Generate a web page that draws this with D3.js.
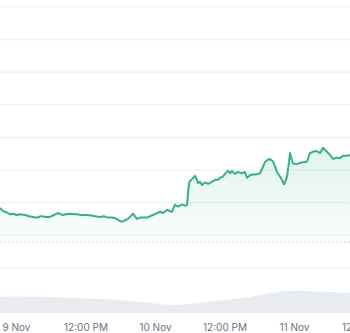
<!DOCTYPE html>
<html>
<head>
<meta charset="utf-8">
<script src="https://cdn.jsdelivr.net/npm/d3@7"></script>
<style>
  body { margin: 0; background: #fff; overflow: hidden; }
  svg { display: block; }
  .xAxis text { font-family: Inter, "Noto Sans", sans-serif; font-size: 10px; fill: #6b7280; }
</style>
</head>
<body>
<svg id="chart"></svg>
<script>
// hours since 9 Nov 00:00
const hours = [-2.76, -2.24, -1.90, -1.38, -1.04, -0.52, 0.17, 0.69, 1.55, 2.24, 2.94, 3.45, 3.80, 4.14, 4.49,
  5.18, 5.87, 6.56, 7.25, 7.77, 8.11, 8.63, 9.32, 10.01, 10.53, 11.22, 11.91, 12.78, 13.64, 14.50,
  15.19, 15.88, 16.57, 17.09, 17.61, 18.13, 18.47, 18.82, 19.16, 19.68, 20.20, 20.55, 20.89, 21.41, 22.10,
  22.62, 23.14, 23.65, 24.17, 24.86, 25.38, 26.07, 26.59, 26.94, 27.45, 27.97, 28.66, 29.18, 29.53, 29.87,
  30.22, 30.56, 30.91, 31.25, 31.42, 31.77, 32.11, 32.63, 33.15, 33.50, 34.01, 34.36, 34.88, 35.22, 35.74,
  36.09, 36.60, 36.95, 37.30, 37.81, 38.33, 38.68, 39.02, 39.54, 39.88, 40.40, 40.75, 41.27, 41.78, 42.13,
  42.65, 42.99, 43.34, 43.86, 44.37, 44.72, 45.06, 45.58, 45.93, 46.27, 46.62, 46.79, 47.14, 47.31, 47.65,
  47.83, 48.52, 49.04, 49.38, 49.90, 50.24, 50.76, 51.28, 51.63, 52.14, 52.49, 53.01, 53.35, 53.70, 54.22,
  54.73, 55.08, 55.42, 55.94, 56.46, 57.15, 57.67];

const prices = [1.692, 1.687, 1.686, 1.684, 1.682, 1.683, 1.681, 1.682, 1.681, 1.679, 1.678, 1.677, 1.677, 1.679, 1.679,
  1.678, 1.678, 1.681, 1.684, 1.682, 1.681, 1.682, 1.683, 1.682, 1.682, 1.681, 1.681, 1.6805, 1.679, 1.678,
  1.679, 1.677, 1.677, 1.676, 1.674, 1.671, 1.671, 1.673, 1.674, 1.678, 1.683, 1.679, 1.675, 1.677, 1.677,
  1.677, 1.679, 1.681, 1.683, 1.686, 1.684, 1.689, 1.687, 1.686, 1.697, 1.694, 1.697, 1.6955, 1.696, 1.730,
  1.735, 1.737, 1.741, 1.735, 1.730, 1.732, 1.727, 1.731, 1.729, 1.730, 1.733, 1.735, 1.735, 1.738, 1.740,
  1.744, 1.749, 1.745, 1.7485, 1.744, 1.747, 1.746, 1.745, 1.747, 1.738, 1.742, 1.743, 1.743, 1.744, 1.745,
  1.755, 1.762, 1.765, 1.767, 1.763, 1.756, 1.747, 1.740, 1.735, 1.728, 1.735, 1.740, 1.762, 1.776, 1.765,
  1.760, 1.759, 1.761, 1.762, 1.762, 1.763, 1.776, 1.778, 1.779, 1.778, 1.776, 1.784, 1.781, 1.778, 1.773,
  1.767, 1.768, 1.769, 1.768, 1.772, 1.772, 1.773];

// volume (millions)
const volHours = [-2.76, 1.55, 5.87, 10.24, 14.50, 19.68, 23.14, 24.86, 27.45, 31.77, 35.22, 38.68, 42.13, 45.58, 49.04, 52.49, 55.94, 57.67];
const volumes = [16.3, 16.5, 16.0, 15.0, 14.0, 12.0, 10.0, 9.0, 8.0, 10.3, 12.5, 14.7, 18.0, 21.3, 22.3, 21.3, 20.5, 19.7];

const gridPrices = [1.60, 1.65, 1.70, 1.75, 1.80, 1.85, 1.90, 1.95, 2.00];
const openPrice = 1.6395;
const areaBase = 1.65;

const tickHours = [0, 12, 24, 36, 48, 60];
const tickLabels = ["9 Nov", "12:00 PM", "10 Nov", "12:00 PM", "11 Nov", "12:00 PM"];

const startDay = new Date(2023, 10, 9);
const toDate = h => new Date(startDay.getTime() + h * 3600 * 1000);

class PriceChart {

  constructor(_config) {
    this.config = {
      parentElement: _config.parentElement,
      containerWidth: _config.containerWidth || 350,
      containerHeight: _config.containerHeight || 333
    }
    this.data = hours.map((h, i) => ({ date: toDate(h), price: prices[i] }));
    this.volData = volHours.map((h, i) => ({ date: toDate(h), vol: volumes[i] }));
    this.initVis();
  }

  initVis() {
    let vis = this;

    vis.svg = d3.select(vis.config.parentElement)
        .attr('width', vis.config.containerWidth)
        .attr('height', vis.config.containerHeight);

    vis.chart = vis.svg.append('g');

    vis.xScale = d3.scaleTime()
        .domain([toDate(-2.76), toDate(57.67)])
        .range([0, vis.config.containerWidth]);

    vis.yScale = d3.scaleLinear()
        .domain([1.60, 2.00])
        .range([267.8, 7]);

    vis.volScale = d3.scaleLinear()
        .domain([0, 33])
        .range([313, 280]);

    // green fade under the line
    let grad = vis.svg.append('defs').append('linearGradient')
        .attr('id', 'areaGrad')
        .attr('gradientUnits', 'userSpaceOnUse')
        .attr('x1', 0).attr('x2', 0)
        .attr('y1', vis.yScale(1.785)).attr('y2', vis.yScale(areaBase));
    grad.append('stop').attr('offset', 0).attr('stop-color', '#35b27f').attr('stop-opacity', 0.16);
    grad.append('stop').attr('offset', 1).attr('stop-color', '#35b27f').attr('stop-opacity', 0.03);

    vis.updateVis();
  }

  updateVis() {
    let vis = this;

    // gridlines
    vis.chart.selectAll('.grid')
        .data(gridPrices)
        .join('line')
          .attr('class', 'grid')
          .attr('x1', 0)
          .attr('x2', vis.config.containerWidth)
          .attr('y1', d => vis.yScale(d))
          .attr('y2', d => vis.yScale(d))
          .attr('stroke', '#eceff3')
          .attr('stroke-width', 1.2);

    // volume
    let volArea = d3.area()
        .x(d => vis.xScale(d.date))
        .y0(vis.volScale(0))
        .y1(d => vis.volScale(d.vol))
        .curve(d3.curveMonotoneX);

    vis.chart.append('path')
        .datum(vis.volData)
        .attr('fill', '#e8ebf0')
        .attr('d', volArea);

    // price area + line
    let area = d3.area()
        .x(d => vis.xScale(d.date))
        .y0(vis.yScale(areaBase))
        .y1(d => vis.yScale(d.price));

    vis.chart.append('path')
        .datum(vis.data)
        .attr('fill', 'url(#areaGrad)')
        .attr('d', area);

    // open price dotted line
    vis.chart.append('line')
        .attr('x1', 0)
        .attr('x2', vis.config.containerWidth)
        .attr('y1', vis.yScale(openPrice))
        .attr('y2', vis.yScale(openPrice))
        .attr('stroke', '#bcc2ca')
        .attr('stroke-width', 1)
        .attr('stroke-dasharray', '1.5,2.5');

    let line = d3.line()
        .x(d => vis.xScale(d.date))
        .y(d => vis.yScale(d.price));

    vis.chart.append('path')
        .datum(vis.data)
        .attr('fill', 'none')
        .attr('stroke', '#35b27f')
        .attr('stroke-width', 2)
        .attr('stroke-linejoin', 'round')
        .attr('d', line);

    // x axis labels
    let xAxis = d3.axisBottom(vis.xScale)
        .tickValues(tickHours.map(toDate))
        .tickFormat((d, i) => tickLabels[i])
        .tickSize(0)
        .tickPadding(0);

    vis.chart.append('g')
        .attr('class', 'xAxis')
        .attr('transform', 'translate(0,324)')
        .call(xAxis)
        .call(g => g.select('.domain').remove());
  }
}

new PriceChart({ parentElement: '#chart' });
</script>
</body>
</html>
